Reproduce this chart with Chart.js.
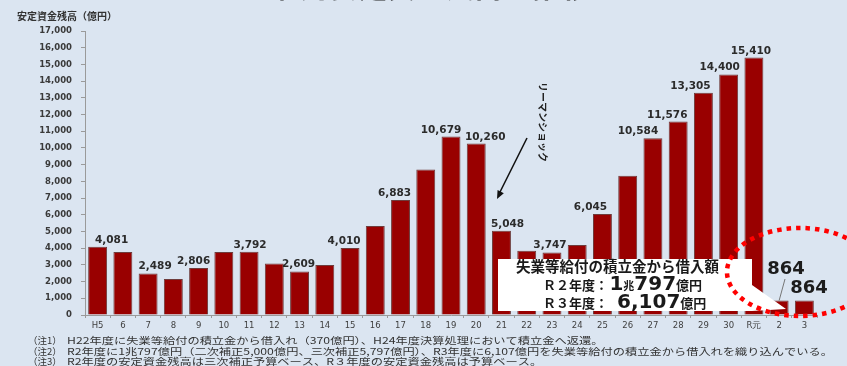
<!DOCTYPE html>
<html lang="ja">
<head>
<meta charset="utf-8">
<script src="https://cdn.jsdelivr.net/npm/chart.js@4.4.1/dist/chart.umd.min.js"></script>
<style>
  html, body { margin: 0; padding: 0; background: #dbe5f1; }
  canvas { display: block; }
</style>
</head>
<body>
<canvas id="zandaka" width="847" height="366"></canvas>
<script>
// 年度と安定資金残高（億円）
const years = ['H5','6','7','8','9','10','11','12','13','14','15','16','17','18','19','20',
               '21','22','23','24','25','26','27','28','29','30','R元','2','3'];
const balances = [4081, 3765, 2489, 2150, 2806, 3770, 3792, 3090, 2609, 3000, 4010, 5320, 6883, 8710,
                  10679, 10260, 5048, 3850, 3747, 4190, 6045, 8330, 10584, 11576, 13305, 14400, 15410,
                  864, 864];
const yTickValues = [0, 1000, 2000, 3000, 4000, 5000, 6000, 7000, 8000, 9000, 10000,
                     11000, 12000, 13000, 14000, 15000, 16000, 17000];

// 数値ラベルを付ける棒と、その横ずれ(px)
const labeledBars = [0, 2, 4, 6, 8, 10, 12, 14, 15, 16, 18, 20, 22, 23, 24, 25, 26];
const labelShift = [14, 7, -5, 1, -1, -6, -6, -10, 9, 6, -2, -12, -15, -11, -13, -9, -3];
const bigLabelBars = [27, 28];

const notes = [
  ['（注1）', 'H22年度に失業等給付の積立金から借入れ（370億円）、H24年度決算処理において積立金へ返還。'],
  ['（注2）', 'R2年度に1兆797億円（二次補正5,000億円、三次補正5,797億円）、R3年度に6,107億円を失業等給付の積立金から借入れを織り込んでいる。'],
  ['（注3）', 'R2年度の安定資金残高は三次補正予算ベース、R３年度の安定資金残高は予算ベース。']
];

const fmt = v => v.toLocaleString('en-US');
const JP = '"Noto Sans CJK JP", sans-serif';
const NUM = '"DejaVu Sans", sans-serif';

function segs(ctx, x, y, parts) {
  // parts: [text, font]
  parts.forEach(([t, f]) => {
    ctx.font = f;
    ctx.fillText(t, x, y);
    x += ctx.measureText(t).width;
  });
}

const decor = {
  id: 'decor',
  beforeDraw(chart) {
    const ctx = chart.ctx;
    ctx.save();
    ctx.fillStyle = '#dbe5f1';
    ctx.fillRect(0, 0, chart.width, chart.height);
    ctx.restore();
  },
  afterDatasetsDraw(chart) {
    const ctx = chart.ctx;
    const meta = chart.getDatasetMeta(0);
    ctx.save();
    ctx.fillStyle = '#2b2b2b';
    ctx.textAlign = 'center';
    ctx.textBaseline = 'alphabetic';
    ctx.font = 'bold 10.5px ' + NUM;
    labeledBars.forEach((i, k) => {
      const bar = meta.data[i];
      ctx.fillText(fmt(balances[i]), bar.x + labelShift[k], bar.y - 4);
    });
    ctx.restore();
  },
  afterDraw(chart) {
    const ctx = chart.ctx;
    const meta = chart.getDatasetMeta(0);
    ctx.save();

    // タイトル（上端で切れている）
    ctx.fillStyle = '#1a1a1a';
    ctx.textAlign = 'center';
    ctx.font = 'bold 29px ' + JP;
    ctx.fillText('雇用安定資金残高の推移', 431, -2);

    // 縦軸タイトル
    ctx.textAlign = 'left';
    ctx.fillStyle = '#333';
    ctx.font = 'bold 10px ' + JP;
    ctx.fillText('安定資金残高（億円）', 17, 20);

    // リーマンショック
    ctx.save();
    ctx.translate(539, 82);
    ctx.rotate(Math.PI / 2);
    ctx.font = 'bold 10px ' + JP;
    ctx.fillStyle = '#222';
    ctx.fillText('リーマンショック', 0, 0);
    ctx.restore();

    // 矢印
    ctx.strokeStyle = '#111';
    ctx.fillStyle = '#111';
    ctx.lineWidth = 1.6;
    ctx.beginPath();
    ctx.moveTo(527, 138);
    ctx.lineTo(500, 192);
    ctx.stroke();
    const ang = Math.atan2(198 - 138, 497 - 527);
    ctx.beginPath();
    ctx.moveTo(497, 199);
    ctx.lineTo(497 - 9 * Math.cos(ang - 0.4), 199 - 9 * Math.sin(ang - 0.4));
    ctx.lineTo(497 - 9 * Math.cos(ang + 0.4), 199 - 9 * Math.sin(ang + 0.4));
    ctx.closePath();
    ctx.fill();

    // 借入額の吹き出し
    ctx.fillStyle = '#ffffff';
    ctx.beginPath();
    ctx.moveTo(498, 259);
    ctx.lineTo(752, 259);
    ctx.lineTo(752, 285);
    ctx.lineTo(786, 309);
    ctx.lineTo(752, 311);
    ctx.lineTo(498, 311);
    ctx.closePath();
    ctx.fill();

    ctx.fillStyle = '#1a1a1a';
    ctx.textAlign = 'left';
    ctx.font = 'bold 14.5px ' + JP;
    ctx.fillText('失業等給付の積立金から借入額', 516, 272);
    segs(ctx, 543, 290, [['Ｒ２年度：', 'bold 13px ' + JP], [' ', 'bold 4px ' + NUM], ['1', 'bold 20px ' + NUM],
                         ['兆', 'bold 11px ' + JP], ['797', 'bold 20px ' + NUM], ['億円', 'bold 13px ' + JP]]);
    segs(ctx, 543, 308, [['Ｒ３年度：', 'bold 13px ' + JP], ['  ', 'bold 13px ' + NUM],
                         ['6,107', 'bold 20px ' + NUM], ['億円', 'bold 13px ' + JP]]);

    // 864 の大きなラベル
    const b2 = meta.data[bigLabelBars[0]];
    ctx.strokeStyle = '#777';
    ctx.lineWidth = 1;
    ctx.beginPath();
    ctx.moveTo(785, 279);
    ctx.lineTo(b2.x, b2.y);
    ctx.stroke();
    ctx.fillStyle = '#1c1c1c';
    ctx.textAlign = 'center';
    ctx.font = 'bold 18px ' + NUM;
    ctx.fillText(fmt(balances[bigLabelBars[0]]), 786, 274);
    ctx.fillText(fmt(balances[bigLabelBars[1]]), 809, 293);

    // 赤い点線の囲み
    ctx.strokeStyle = '#ff0000';
    ctx.lineWidth = 4.5;
    ctx.setLineDash([4.5, 5]);
    ctx.beginPath();
    ctx.ellipse(800, 272, 73, 44, 0, 0, Math.PI * 2);
    ctx.stroke();
    ctx.setLineDash([]);

    // 注記
    ctx.fillStyle = '#333';
    ctx.textAlign = 'left';
    ctx.font = '9.5px ' + JP;
    const sx = 766 / ctx.measureText(notes[1][1]).width;
    notes.forEach(([tag, body], i) => {
      const y = 344 + i * 10.5;
      ctx.fillText(tag, 28, y);
      ctx.save();
      ctx.translate(67, y);
      ctx.scale(sx, 1);
      ctx.fillText(body, 0, 0);
      ctx.restore();
    });

    ctx.restore();
  }
};

new Chart(document.getElementById('zandaka'), {
  type: 'bar',
  data: {
    labels: years,
    datasets: [{
      data: balances,
      backgroundColor: '#990000',
      borderColor: '#6e3c3c',
      borderWidth: 1,
      barPercentage: 0.75,
      categoryPercentage: 1
    }]
  },
  options: {
    responsive: false,
    devicePixelRatio: 1,
    animation: false,
    layout: { padding: { left: 0, right: 30, top: 31, bottom: 0 } },
    plugins: {
      legend: { display: false },
      tooltip: { enabled: false }
    },
    scales: {
      x: {
        grid: { drawOnChartArea: false, tickLength: 3, color: '#9a9a9a' },
        border: { display: true, color: '#9a9a9a' },
        ticks: {
          autoSkip: false, maxRotation: 0, padding: 3,
          color: '#404040', font: { family: NUM, size: 8.5 }
        },
        afterFit(scale) { scale.height = 51; }
      },
      y: {
        min: 0,
        max: 17000,
        afterBuildTicks(scale) { scale.ticks = yTickValues.map(v => ({ value: v })); },
        grid: { drawOnChartArea: false, tickLength: 4, color: '#9a9a9a' },
        border: { display: true, color: '#9a9a9a' },
        ticks: {
          padding: 9,
          color: '#3a3a3a',
          font: { family: NUM, size: 8.5, weight: 'bold' },
          callback: v => fmt(v)
        },
        afterFit(scale) { scale.width = 85; }
      }
    }
  },
  plugins: [decor]
});
</script>
</body>
</html>
